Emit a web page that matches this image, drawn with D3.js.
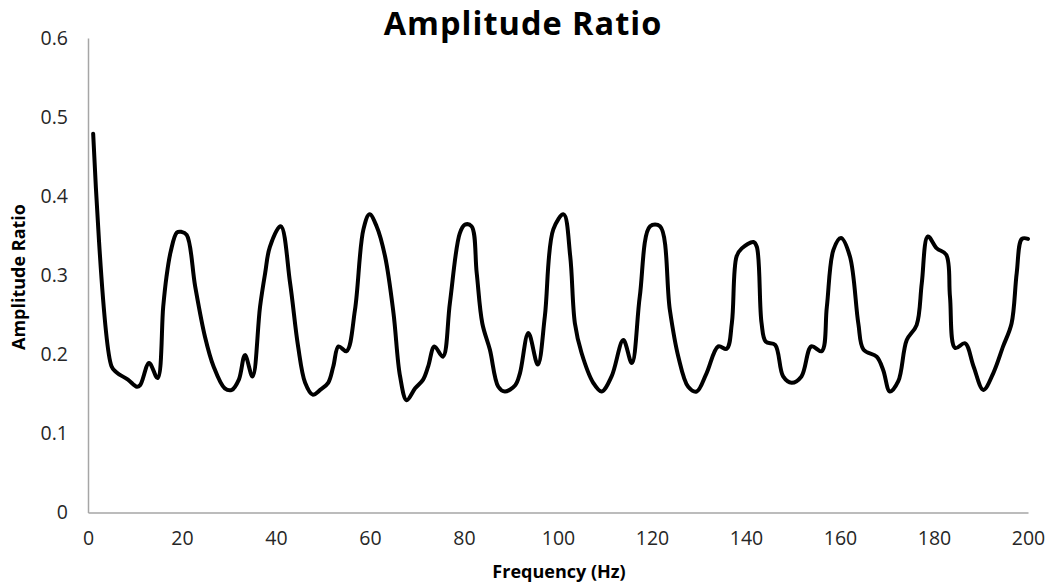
<!DOCTYPE html>
<html>
<head>
	<title>Amplitude Ratio</title>
	<script src="https://d3js.org/d3.v7.min.js" charset="utf-8"></script>
	<style>
		body { margin: 0; background: #fff; }
		text { font-family: "Open Sans", "DejaVu Sans", sans-serif; }
	</style>
</head>
<body>
	<svg width="1051" height="585"></svg>
	<script>
		// values
		const freq = [1.1, 5.0, 6.1, 8.5, 10.4, 11.1, 13.0, 14.8, 16.0, 16.7, 17.6, 18.9, 19.8, 21.0, 22.8, 24.9, 26.7, 29.1, 30.6, 32.1, 33.4,
			35.0, 36.6, 37.7, 38.7, 41.0, 43.0, 44.7, 46.2, 47.8, 49.4, 51.1, 52.2, 53.3, 55.0, 56.8, 58.6, 59.9, 61.4, 63.2, 65.0, 66.4,
			67.8, 69.6, 71.3, 72.4, 73.7, 75.5, 77.0, 79.1, 80.2, 81.6, 82.7, 83.9, 85.5, 87.3, 88.7, 90.9, 91.9, 93.7, 95.7, 97.2, 99.0,
			101.2, 102.6, 103.6, 105.0, 107.5, 109.3, 111.4, 113.9, 115.7, 117.4, 119.6, 121.7, 123.8, 125.6, 127.7, 129.5, 131.6,
			134.1, 135.9, 137.0, 138.0, 139.1, 141.6, 142.3, 143.3, 144.2, 146.2, 147.9, 149.7, 151.8, 153.9, 156.1, 157.2, 158.6, 160.2,
			162.1, 163.9, 165.0, 167.8, 169.2, 170.6, 172.4, 174.2, 176.3, 177.4, 178.7, 180.6, 182.6, 183.4, 184.5, 186.6, 188.4,
			190.5, 192.6, 194.7, 196.5, 197.6, 198.7, 200.0];
		const amp = [0.479, 0.185, 0.177, 0.168, 0.159, 0.161, 0.189, 0.170, 0.260, 0.298, 0.330, 0.354, 0.355, 0.351, 0.286, 0.222, 0.185, 0.157, 0.155, 0.168, 0.199,
			0.172, 0.260, 0.303, 0.336, 0.362, 0.290, 0.210, 0.164, 0.149, 0.155, 0.164, 0.185, 0.210, 0.204, 0.256, 0.358, 0.377, 0.362, 0.324, 0.252, 0.172,
			0.142, 0.157, 0.168, 0.185, 0.210, 0.197, 0.265, 0.353, 0.364, 0.362, 0.303, 0.239, 0.206, 0.159, 0.153, 0.161, 0.176, 0.227, 0.187, 0.248, 0.358,
			0.377, 0.324, 0.239, 0.202, 0.164, 0.153, 0.172, 0.218, 0.189, 0.273, 0.362, 0.362, 0.256, 0.197, 0.159, 0.153, 0.176,
			0.210, 0.207, 0.240, 0.324, 0.334, 0.342, 0.336, 0.240, 0.216, 0.212, 0.172, 0.164, 0.172, 0.210, 0.204, 0.260, 0.332, 0.347,
			0.324, 0.239, 0.206, 0.197, 0.180, 0.153, 0.166, 0.218, 0.237, 0.290, 0.349, 0.334, 0.326, 0.273, 0.208, 0.214, 0.185,
			0.155, 0.176, 0.210, 0.239, 0.303, 0.346, 0.346];
		const xTicks = [0, 20, 40, 60, 80, 100, 120, 140, 160, 180, 200];
		const yTicks = [0, 0.1, 0.2, 0.3, 0.4, 0.5, 0.6];

		const plotLeft = 88, plotRight = 1028, plotTop = 38, plotBottom = 512.5;

		const svg = d3.select('svg');

		const x = d3.scaleLinear().domain([0, 200]).range([plotLeft, plotRight]);
		const y = d3.scaleLinear().domain([0, 0.6]).range([plotBottom, plotTop]);

		// axes, excel style: grey lines, no tick marks
		const xAxis = svg.append('g')
			.attr('transform', `translate(0,${plotBottom})`)
			.call(d3.axisBottom(x).tickValues(xTicks).tickSize(0).tickPadding(19).tickFormat(d3.format('d')));
		const yAxis = svg.append('g')
			.attr('transform', `translate(${plotLeft},0)`)
			.call(d3.axisLeft(y).tickValues(yTicks).tickSize(0).tickPadding(20).tickFormat(d => d === 0 ? '0' : d3.format('.1f')(d)));

		[xAxis, yAxis].forEach(a => {
			a.select('.domain').attr('stroke', '#a6a6a6').attr('stroke-width', 1.5);
			a.selectAll('text')
				.style('font-family', '"Open Sans", sans-serif')
				.style('font-size', '19.5px')
				.attr('fill', '#262626');
		});

		const pts = freq.map((f, i) => [f, amp[i]]);
		const line = d3.line()
			.x(d => x(d[0]))
			.y(d => y(d[1]))
			.curve(d3.curveCatmullRom.alpha(0.5));

		svg.append('path')
			.datum(pts)
			.attr('d', line)
			.attr('fill', 'none')
			.attr('stroke', '#000')
			.attr('stroke-width', 4)
			.attr('stroke-linejoin', 'round')
			.attr('stroke-linecap', 'round');

		svg.append('text')
			.attr('x', 523).attr('y', 35)
			.attr('text-anchor', 'middle')
			.style('font-size', '32.5px').style('font-weight', 'bold')
			.style('letter-spacing', '1px')
			.text('Amplitude Ratio');

		svg.append('text')
			.attr('x', 559).attr('y', 578)
			.attr('text-anchor', 'middle')
			.style('font-size', '18px').style('font-weight', 'bold')
			.text('Frequency (Hz)');

		svg.append('text')
			.attr('transform', 'translate(25,277) rotate(-90)')
			.attr('text-anchor', 'middle')
			.style('font-size', '18px').style('font-weight', 'bold')
			.text('Amplitude Ratio');
	</script>
</body>
</html>
